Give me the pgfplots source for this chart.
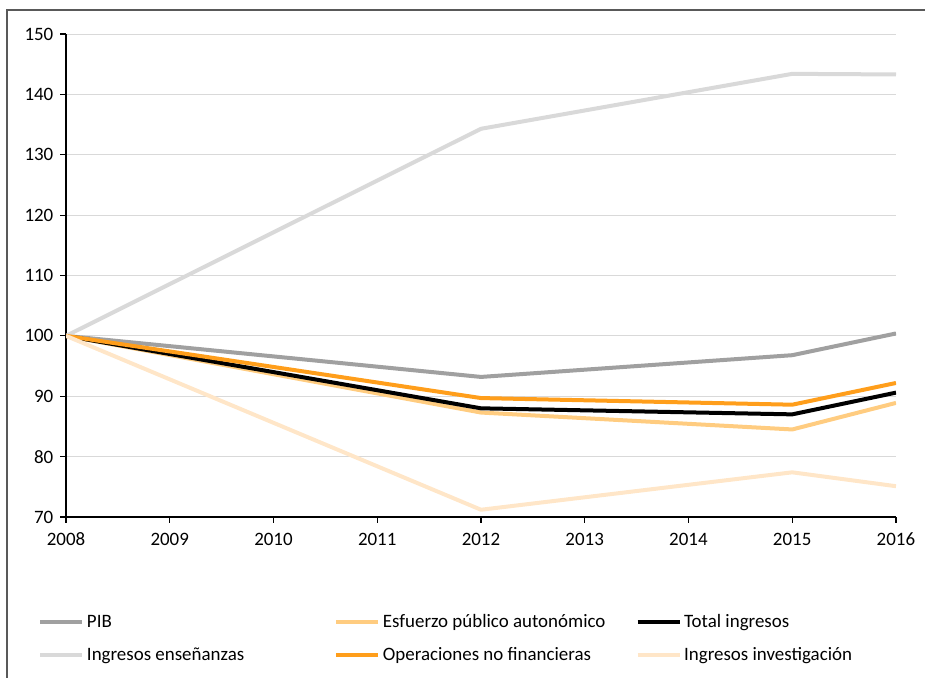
\documentclass[border=0pt]{standalone}
\usepackage{fontspec}
\setmainfont{Carlito}
\usepackage{pgfplots}
\pgfplotsset{compat=1.18}
\definecolor{cPIB}{RGB}{160,160,160}
\definecolor{cEsf}{RGB}{255,204,128}
\definecolor{cTot}{RGB}{0,0,0}
\definecolor{cEns}{RGB}{217,217,217}
\definecolor{cOpe}{RGB}{255,158,27}
\definecolor{cInv}{RGB}{255,230,200}
\definecolor{gridgray}{RGB}{217,217,217}
\definecolor{frame}{RGB}{89,89,89}
\begin{document}
\begin{tikzpicture}
\useasboundingbox (0,0) rectangle (693.75pt,508.5pt);
\draw[frame, line width=1.1pt] (5.25pt,-5pt) -- (5.25pt,501pt) -- (700pt,501pt);
\begin{axis}[
 at={(49.5pt,120.75pt)}, anchor=south west,
 scale only axis, width=622.5pt, height=362.25pt,
 xmin=2008, xmax=2016, ymin=70, ymax=150,
 xtick={2008,2009,...,2016}, ytick={70,80,...,150},
 axis x line*=bottom, axis y line*=left,
 axis line style={-, black, line width=1.1pt},
 ymajorgrids, grid style={gridgray, line width=0.75pt},
 tick align=outside, major tick length=4.5pt,
 tick style={black, line width=0.9pt},
 /pgf/number format/1000 sep={},
 /pgf/number format/assume math mode=true,
 tick label style={font=\fontsize{14.2}{16}\selectfont},
 xticklabel style={yshift=-4pt},
 yticklabel style={xshift=-1.5pt},
 legend columns=3,
 legend cell align=left,
 legend image code/.code={\draw[#1] (0pt,0pt) -- (31.5pt,0pt);},
 legend style={at={(-0.0385,-0.19)}, anchor=north west, draw=none, fill=none,
   font=\fontsize{14.2}{16}\selectfont, row sep=9.5pt,
   /tikz/column 2/.style={column sep=65.5pt},
   /tikz/column 4/.style={column sep=20.5pt}},
 every axis plot/.append style={line width=3pt, line join=round},
]
\addplot[cPIB] coordinates {(2008,100) (2012,93.2) (2015,96.8) (2016,100.4)};
\addlegendentry{PIB}
\addplot[cEsf] coordinates {(2008,100) (2012,87.3) (2015,84.5) (2016,88.9)};
\addlegendentry{Esfuerzo público autonómico}
\addplot[cTot] coordinates {(2008,100) (2012,88.0) (2015,87.0) (2016,90.6)};
\addlegendentry{Total ingresos}
\addplot[cEns] coordinates {(2008,100) (2012,134.3) (2015,143.4) (2016,143.3)};
\addlegendentry{Ingresos enseñanzas}
\addplot[cOpe] coordinates {(2008,100) (2012,89.7) (2015,88.6) (2016,92.2)};
\addlegendentry{Operaciones no financieras}
\addplot[cInv] coordinates {(2008,100) (2012,71.2) (2015,77.4) (2016,75.1)};
\addlegendentry{Ingresos investigación}
\end{axis}
\end{tikzpicture}
\end{document}
